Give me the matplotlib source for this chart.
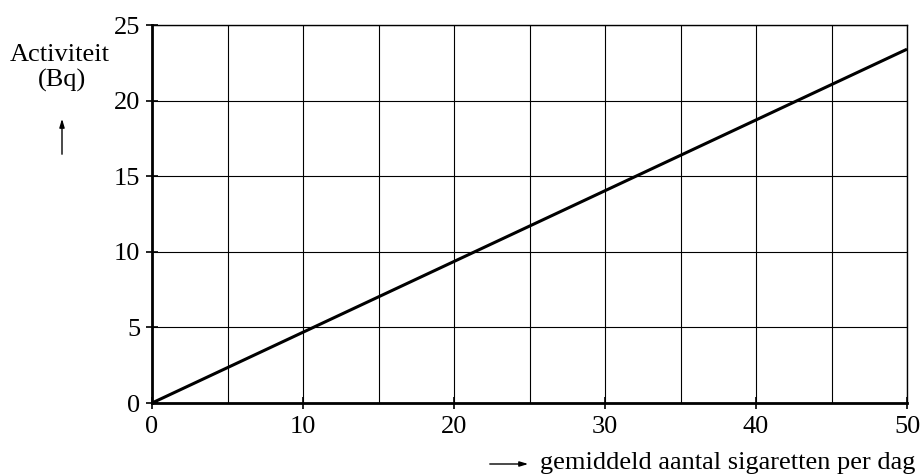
import matplotlib
matplotlib.use("Agg")
import matplotlib.pyplot as plt

# data
sigaretten = [0, 50]
activiteit = [0, 23.4]
xticks = [0, 10, 20, 30, 40, 50]
yticks = [0, 5, 10, 15, 20, 25]

plt.rcParams['font.family'] = ['Liberation Serif', 'DejaVu Serif']

fig = plt.figure(figsize=(9.24, 4.75), dpi=100)
ax = fig.add_axes([152/924, 1 - 403/475, 755/924, 378/475])

ax.plot(sigaretten, activiteit, color='black', lw=2.2, solid_capstyle='butt', zorder=3)

ax.set_xlim(0, 50)
ax.set_ylim(0, 25)
ax.set_xticks(xticks)
ax.set_yticks(yticks)
ax.set_xticks(range(0, 51, 5), minor=True)
ax.grid(True, which='both', color='black', lw=0.8)
ax.tick_params(which='minor', length=0)
ax.tick_params(which='major', direction='inout', length=9, width=1.2,
               labelsize=19, colors='black')
ax.tick_params(axis='x', pad=5)
ax.tick_params(axis='y', pad=4)

for side in ['top', 'right']:
    ax.spines[side].set_linewidth(1.0)
for side in ['left', 'bottom']:
    ax.spines[side].set_linewidth(2.0)

fig.text(60/924, 1 - 55/475, "Activiteit", ha='center', va='center', fontsize=19)
fig.text(62/924, 1 - 80/475, "(Bq)", ha='center', va='center', fontsize=19)
fig.add_artist(plt.Annotation("", xy=(62/924, 1 - 116/475), xytext=(62/924, 1 - 157/475),
                              xycoords='figure fraction',
                              arrowprops=dict(arrowstyle='-|>,head_length=0.5,head_width=0.15',
                                              color='black', lw=1.0)))

fig.add_artist(plt.Annotation("", xy=(531/924, 1 - 464/475), xytext=(487/924, 1 - 464/475),
                              xycoords='figure fraction',
                              arrowprops=dict(arrowstyle='-|>,head_length=0.5,head_width=0.15',
                                              color='black', lw=1.0)))
fig.text(540/924, 1 - 463/475, "gemiddeld aantal sigaretten per dag",
         ha='left', va='center', fontsize=19)

fig.savefig("out.png", dpi=100)
